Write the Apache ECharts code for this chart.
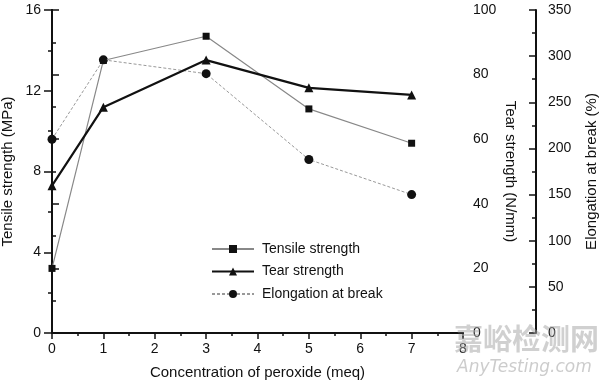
<!DOCTYPE html>
<html>
<head>
<meta charset="utf-8">
<script src="https://cdn.jsdelivr.net/npm/echarts@6/dist/echarts.min.js"></script>
<style>html,body{margin:0;padding:0;background:#fff}#c{width:600px;height:383px}</style>
</head>
<body>
<div id="c"></div>
<script>
var concentration = [0, 1, 3, 5, 7];
var tensileStrength = [3.2, 13.5, 14.7, 11.1, 9.4];
var tearStrength = [45.6, 69.9, 84.5, 75.9, 73.7];
var elongation = [210, 296, 281, 188, 150];
var seriesNames = ['Tensile strength', 'Tear strength', 'Elongation at break'];

function pairs(ys) { return concentration.map(function (x, i) { return [x, ys[i]]; }); }

var FONT = 'Liberation Sans, Arial, sans-serif';
var txt = { color: '#111', fontSize: 14, fontFamily: FONT };
var nameTxt = { color: '#111', fontSize: 15, fontFamily: FONT };
var axLine = { show: true, lineStyle: { color: '#111', width: 2 } };

var chart = echarts.init(document.getElementById('c'));
chart.setOption({
  animation: false,
  backgroundColor: '#fff',
  grid: { left: 52, right: 137, top: 10, bottom: 50, containLabel: false, outerBoundsMode: 'none' },
  legend: {
    orient: 'vertical', left: 206, top: 237, itemWidth: 42, itemHeight: 10, itemGap: 8.5,
    textStyle: { color: '#111', fontSize: 14, fontFamily: FONT, padding: [0, 0, 0, 3] },
    data: seriesNames
  },
  xAxis: [{
    type: 'value', min: 0, max: 8, interval: 1, position: 'bottom',
    name: 'Concentration of peroxide (meq)', nameLocation: 'middle', nameGap: 32,
    nameTextStyle: nameTxt,
    axisLine: axLine,
    axisTick: { show: true, length: 5, lineStyle: { color: '#111', width: 1.5 } },
    minorTick: { show: true, splitNumber: 2, length: 3, lineStyle: { color: '#111', width: 1.5 } },
    axisLabel: Object.assign({ margin: 9 }, txt),
    splitLine: { show: false }
  }, {
    type: 'value', min: 0, max: 8, interval: 1, position: 'top',
    axisLine: axLine,
    axisTick: { show: true, inside: true, length: 6, lineStyle: { color: '#111', width: 1.5 } },
    minorTick: { show: true, splitNumber: 2, length: 3, lineStyle: { color: '#111', width: 1.5 } },
    axisLabel: { show: false }, splitLine: { show: false }
  }],
  yAxis: [{
    type: 'value', min: 0, max: 16, interval: 4, position: 'left',
    name: 'Tensile strength (MPa)', nameLocation: 'middle', nameGap: 37, nameMoveOverlap: false,
    nameTextStyle: nameTxt,
    axisLine: axLine,
    axisTick: { show: true, length: 8, lineStyle: { color: '#111', width: 1.5 } },
    minorTick: { show: true, splitNumber: 2, length: 4, lineStyle: { color: '#111', width: 1.5 } },
    axisLabel: Object.assign({ margin: 11 }, txt),
    splitLine: { show: false }
  }, {
    type: 'value', min: 0, max: 100, interval: 20, position: 'right',
    name: 'Tear strength (N/mm)', nameLocation: 'middle', nameGap: 40, nameRotate: -90, nameMoveOverlap: false,
    nameTextStyle: nameTxt,
    axisLine: axLine,
    axisTick: { show: true, length: 7, lineStyle: { color: '#111', width: 1.5 } },
    minorTick: { show: true, splitNumber: 2, length: 4, lineStyle: { color: '#111', width: 1.5 } },
    axisLabel: Object.assign({ margin: 10 }, txt),
    splitLine: { show: false }
  }, {
    type: 'value', min: 0, max: 350, interval: 50, position: 'right', offset: 73,
    name: 'Elongation at break (%)', nameLocation: 'middle', nameGap: 48,
    nameTextStyle: nameTxt,
    axisLine: axLine,
    axisTick: { show: true, inside: true, length: 7, lineStyle: { color: '#111', width: 1.5 } },
    minorTick: { show: true, splitNumber: 2, length: 4, lineStyle: { color: '#111', width: 1.5 } },
    axisLabel: Object.assign({ margin: 12 }, txt),
    splitLine: { show: false }
  }],
  series: [{
    name: seriesNames[0], type: 'line', xAxisIndex: 0, yAxisIndex: 0,
    data: pairs(tensileStrength), symbol: 'rect', symbolSize: 7,
    lineStyle: { color: '#888', width: 1.2 }, itemStyle: { color: '#111' }, z: 3
  }, {
    name: seriesNames[1], type: 'line', xAxisIndex: 0, yAxisIndex: 1,
    data: pairs(tearStrength), symbol: 'triangle', symbolSize: 9,
    lineStyle: { color: '#111', width: 2.2 }, itemStyle: { color: '#111' }, z: 4
  }, {
    name: seriesNames[2], type: 'line', xAxisIndex: 0, yAxisIndex: 2,
    data: pairs(elongation), symbol: 'circle', symbolSize: 9,
    lineStyle: { color: '#999', width: 1, type: [3, 2] }, itemStyle: { color: '#111' }, z: 2
  }],
  graphic: [{
    type: 'text', left: 454, top: 324, z: 100, silent: true,
    style: { text: '嘉峪检测网', fill: 'rgba(170,170,170,0.55)', fontSize: 29, fontWeight: 'bold', fontFamily: 'Noto Sans CJK SC' }
  }, {
    type: 'text', left: 457, top: 359, z: 100, silent: true,
    style: { text: 'AnyTesting.com', fill: 'rgba(170,170,170,0.6)', fontSize: 17, fontStyle: 'italic', fontFamily: 'DejaVu Sans' }
  }]
});
</script>
</body>
</html>
